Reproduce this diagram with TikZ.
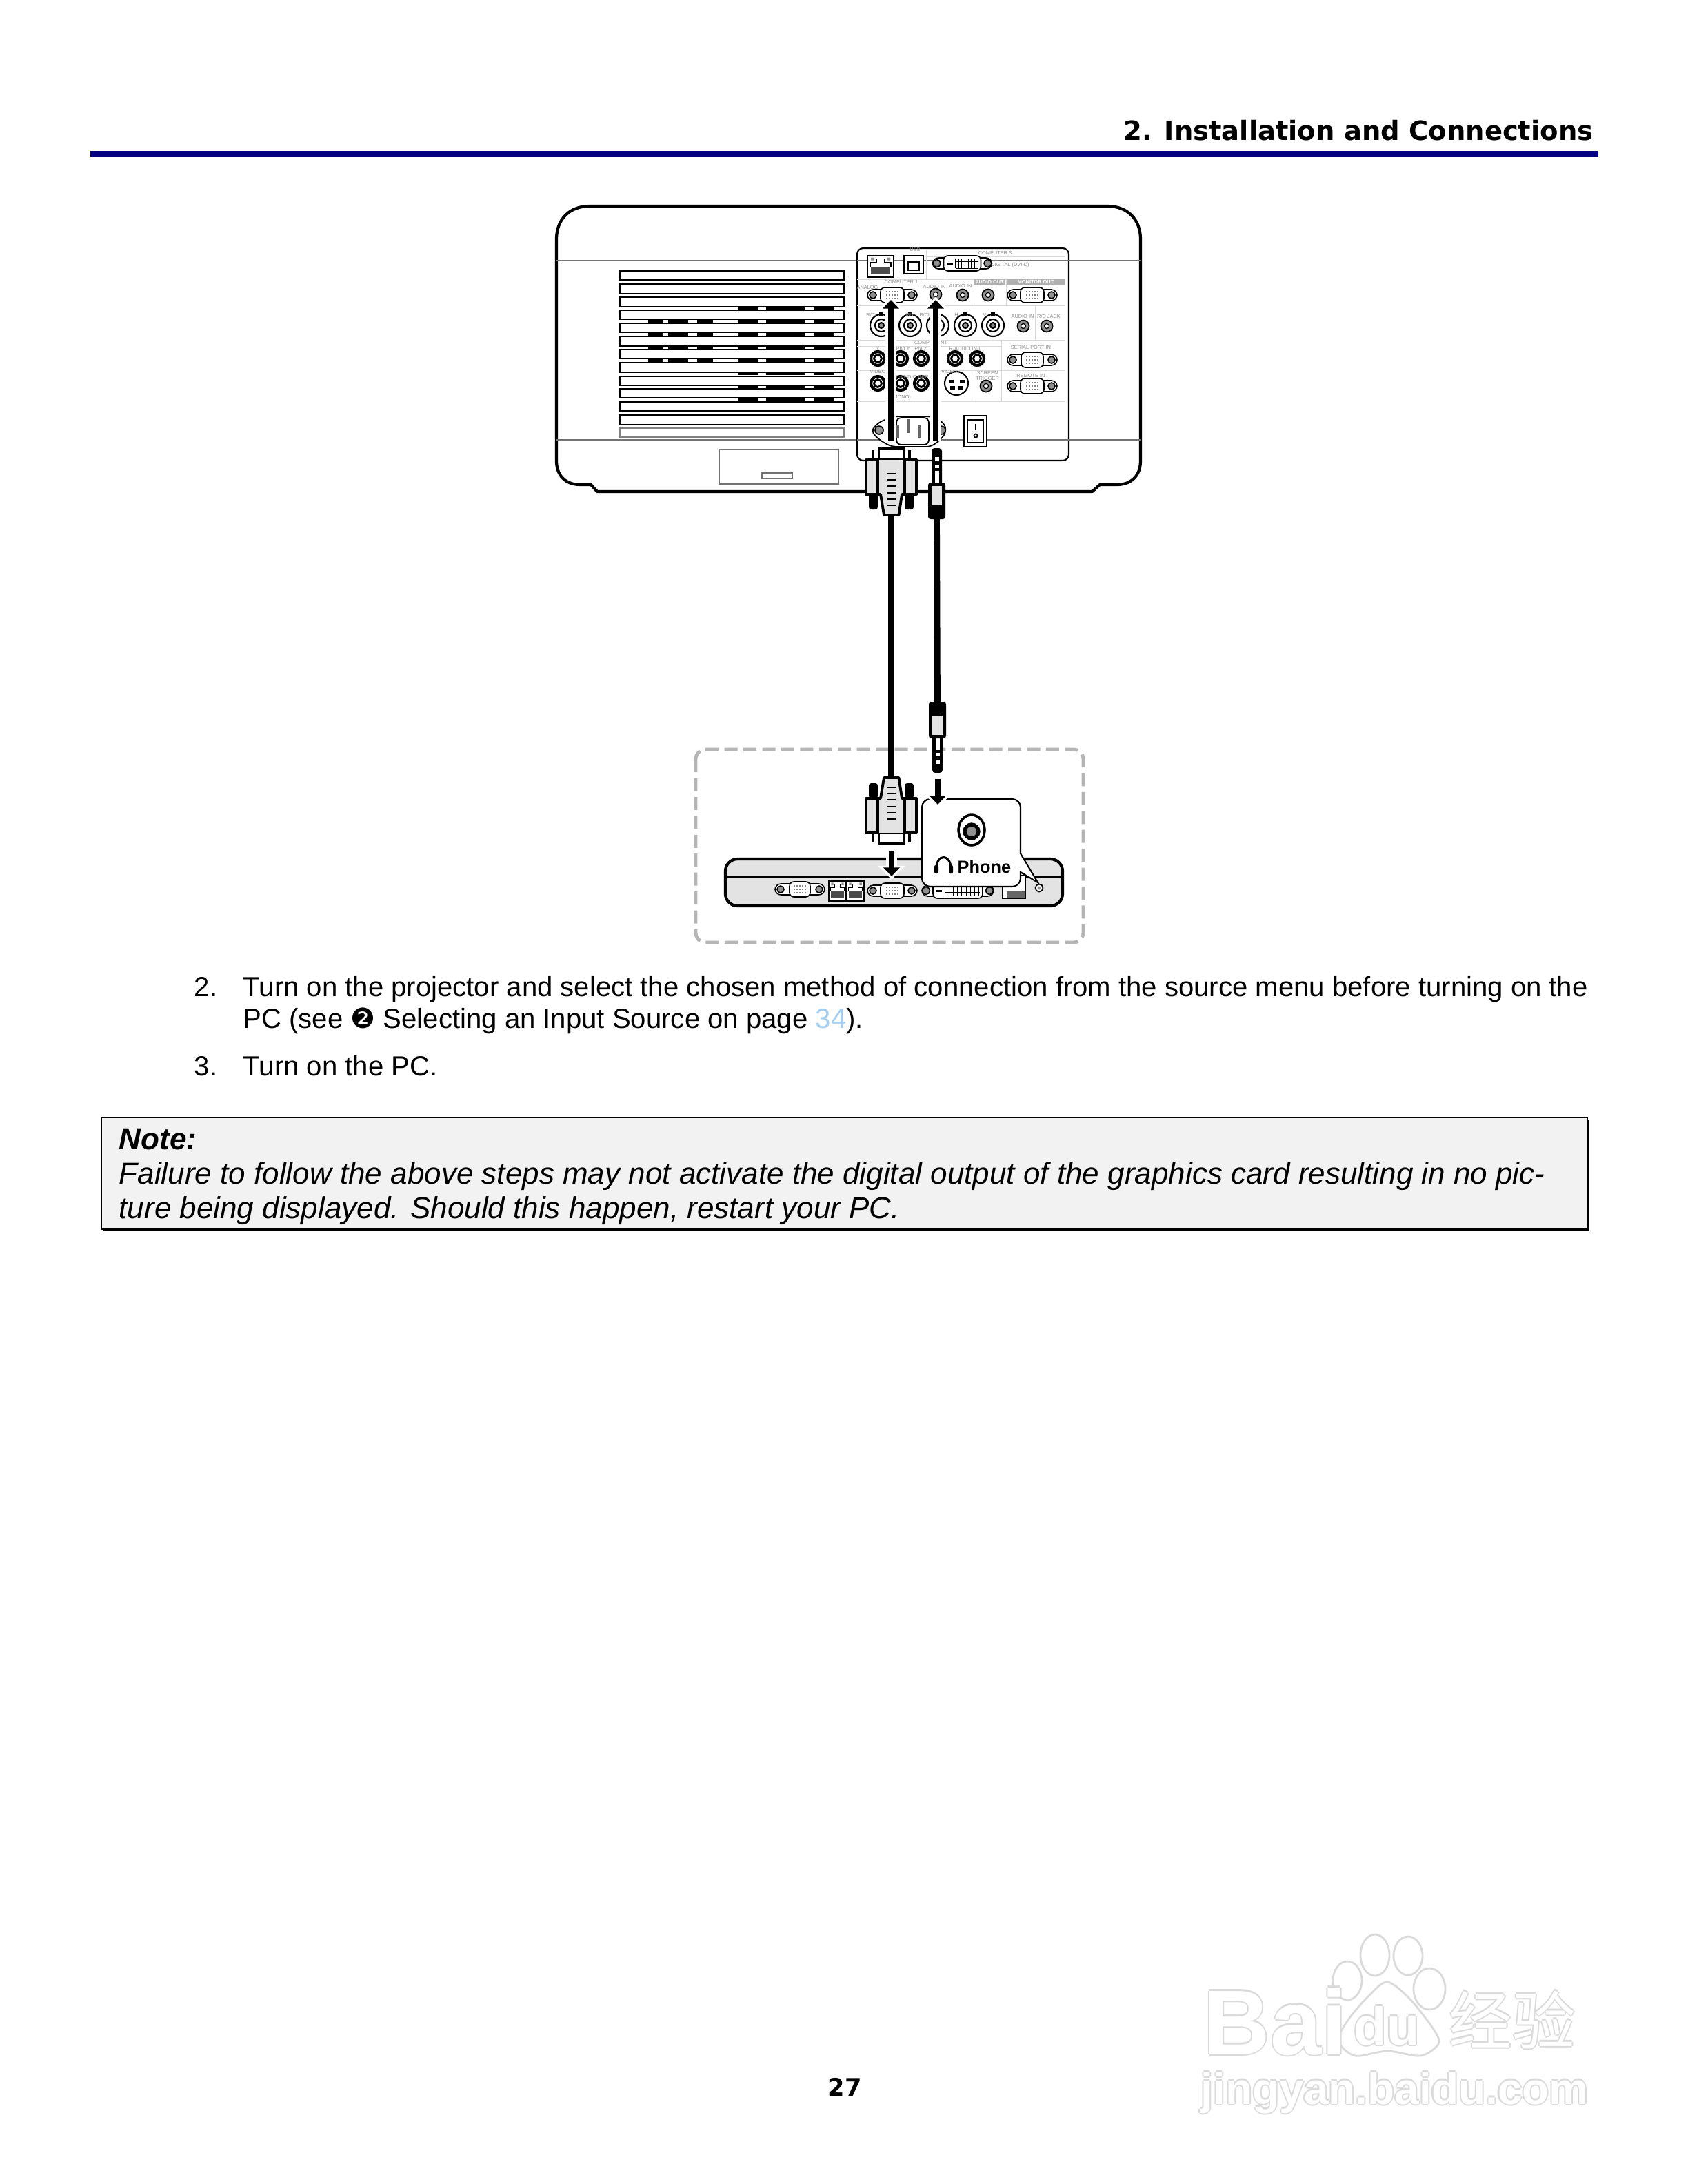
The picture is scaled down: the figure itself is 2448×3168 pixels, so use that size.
\documentclass[tikz,border=0pt]{standalone}
\usepackage{fontspec}
\usepackage{xcolor}
\usetikzlibrary{arrows.meta,calc}
\setmainfont{Liberation Sans}
\newfontfamily\headfont{DejaVu Sans}
\newfontfamily\cjkfont{Noto Sans CJK SC}
\definecolor{navy}{HTML}{000080}
\definecolor{soft}{HTML}{F2F2F2}
\definecolor{plugfill}{HTML}{E3E3E3}
\definecolor{dashgray}{HTML}{B5B5B5}
\definecolor{linkblue}{HTML}{A3CEF1}
\definecolor{labelgray}{HTML}{8F8F8F}
\definecolor{wmedge}{HTML}{DADADA}
% outlined letters of the watermark
\newcommand{\wmglyph}[1]{\leavevmode\rlap{\color{wmedge}\kern-.6pt #1}\rlap{\color{wmedge}\kern.6pt #1}\rlap{\color{wmedge}\raisebox{.6pt}{#1}}\rlap{\color{wmedge}\raisebox{-.6pt}{#1}}{\color{white}#1}}
\tikzset{
  pics/dsub/.style={code={
    \draw[portline,fill=white,rounded corners=2.4pt] (-36,-8) rectangle (36,8);
    \foreach \sx in {-28,28} \draw[portline,fill=labelgray] (\sx,0) circle (5);
    \draw[portline,fill=white,rounded corners=1.8pt] (-#1,-11) rectangle (#1,11);
    \foreach \sx in {-8,-4,0,4,8} \foreach \sy in {-5,0,5}
      \fill (\sx,\sy) circle (.8);
  }},
  pics/dsub/.default=17,
  pics/dviport/.style={code={
    \draw[portline,fill=white,rounded corners=2.4pt] (-#1-16,-8) rectangle (#1+16,8);
    \foreach \sx in {-1,1} \draw[portline,fill=labelgray] (\sx*#1+\sx*10,0) circle (5.5);
    \draw[portline,fill=white,rounded corners=1.8pt] (-#1,-11) rectangle (#1,11);
    \fill (-#1+5,-1.5) rectangle (-#1+13,1.5);
    \foreach \sx in {0,...,8} \draw[line width=.25pt] (-#1+17+\sx*.45*#1/2.6,-7) -- (-#1+17+\sx*.45*#1/2.6,7);
    \foreach \sy in {-7,-2.3,2.3,7} \draw[line width=.25pt] (-#1+17,\sy) -- (#1-4,\sy);
  }},
  pics/rjport/.style={code={
    \draw[line width=.7pt,fill=white] (-19,-15.5) rectangle (19,15.5);
    \draw[line width=.4pt] (-15,1) -- (-15,-6) -- (-6,-6) -- (-6,-11) -- (6,-11) -- (6,-6) -- (15,-6) -- (15,1);
    \fill[black!70] (-14,1) rectangle (14,11);
    \fill[labelgray] (-14,-13) rectangle (-9,-9) (9,-13) rectangle (14,-9);
  }},
  pics/vgaplug/.style={code={
    \draw[plugline,fill=white] (-18,-25) -- (-18,-41) -- (18,-41) -- (18,-25);
    \foreach \sx in {-26.5,26.5} \draw[line width=1pt] (\sx,-25) -- (\sx,-39);
    \foreach \sx in {-26,26} \fill[rounded corners=1pt] (\sx-6.5,25) rectangle (\sx+6.5,47);
    \draw[plugline,fill=plugfill,line join=round] (-36.5,-25) rectangle (36.5,25);
    \draw[plugline,fill=plugfill,line join=round] (-19.5,-25) -- (-19.5,25) -- (-15.5,25) -- (-10.5,55) -- (11,55) -- (15.5,25) -- (19.5,25) -- (19.5,-25);
    \foreach \dy in {-5,4,13,23,32,41} \fill (-6.5,\dy-1) rectangle (6.5,\dy+1);
  }},
  pics/jackplug/.style={code={
    \fill[rounded corners=1.2pt] (-7.5,-50) rectangle (7.5,5);
    \foreach \wa/\wb in {-37/-31,-25/-21,-17/1} \fill[white] (-3,\wa) rectangle (3,\wb);
    \fill[rounded corners=1pt] (-12.5,0) rectangle (12.5,53);
    \fill[plugfill] (-7.5,5) rectangle (7.5,33);
  }}
}
\begin{document}
\begin{tikzpicture}[x=0.01cm,y=-0.01cm,
    bodyline/.style={line width=1.2pt,line join=round},
    plugline/.style={line width=1.1pt},
    portline/.style={line width=.45pt},
    vent/.style={line width=.55pt,fill=white},
    grayline/.style={line width=.45pt,draw=black!55},
    faint/.style={line width=.25pt,draw=black!15},
    bnc/.style={line width=.6pt,fill=white},
    portlabel/.style={font=\fontsize{2.1}{2.5}\selectfont,text=labelgray,inner sep=0pt,align=center},
    whitelabel/.style={font=\bfseries\fontsize{2.1}{2.5}\selectfont,text=white,inner sep=0pt},
    bodytext/.style={font=\fontsize{11.41}{14}\selectfont,anchor=base west,inner sep=0pt},
    notetext/.style={font=\itshape\fontsize{12.52}{15}\selectfont,anchor=base west,inner sep=0pt},
    wmark/.style={inner sep=0pt},
    halo/.style={white,line width=4.6pt,shorten >=-1.3pt,-{Triangle[length=5.6pt,width=11pt]}},
    inarrow/.style={line width=2.4pt,-{Triangle[length=3.6pt,width=6.6pt]}},
    cable/.style={line width=2.5pt}]
  \useasboundingbox (0,0) rectangle (2448,3168);

  % page head
  \node[font=\headfont\bfseries\fontsize{10.95}{13}\selectfont,anchor=base east,inner sep=0pt] (header) at (2311,203) {2. Installation and Connections};
  \fill[navy] (131,219) rectangle (2318,228);

  % projector body
  \draw[bodyline,fill=white] (866,713) -- (857,703) -- (842,703) .. controls (820,703) and (807,690) .. (807,668) -- (807,347) .. controls (807,318) and (826,299) .. (855,299) -- (1606,299) .. controls (1635,299) and (1654,318) .. (1654,347) -- (1654,668) .. controls (1654,690) and (1641,703) .. (1619,703) -- (1595,703) -- (1584,713) -- cycle;
  \draw[grayline] (807,378) -- (1654,378) (807,638) -- (1654,638);
  \foreach \va/\vb in {393/406,412/426,431/445,450/463,469/482,488/502,507/520,526/540,546/559,564/577,583/596,602/616}
    \draw[vent] (899,\va) rectangle (1224,\vb);
  \draw[vent,draw=black!50,line width=.8pt] (899,621) rectangle (1224,634);
  \foreach \dy in {448,466,485,504,523,542,561,580}
    \foreach \da/\db in {1071/1100,1111/1167,1180/1209}
      \fill (\da,\dy-2) rectangle (\db,\dy+2);
  \foreach \dy in {466,485,504,523}
    \foreach \da/\db in {940/961,969/998,1011/1034}
      \fill (\da,\dy-2) rectangle (\db,\dy+2);
  \draw[grayline,line width=.6pt] (1043,652) rectangle (1216,702);
  \draw[grayline,line width=.6pt] (1105,686) rectangle (1149,694);

  % back panel
  \draw[line width=.6pt,fill=white,rounded corners=2.5pt] (1243,360) rectangle (1550,668);
  \draw[grayline] (1243,378) -- (1550,378) (1243,638) -- (1550,638);
  \foreach \xa/\ya/\xb/\yb in {1343/363/1343/405,1243/405/1544/405,1343/372/1544/372,1243/443/1544/443,1243/493/1544/493,1243/502/1452/502,1243/537/1544/537,1243/582/1544/582,1544/372/1544/582,1412/405/1412/443,1459/405/1459/443,1501/443/1501/493,1452/493/1452/582,1373/405/1373/443,1412/537/1412/582}
    \draw[faint] (\xa,\ya) -- (\xb,\yb);
  \fill[labelgray!70] (1412,405) rectangle (1458,413) (1460,405) rectangle (1544,413);

  \pic at (1277,386.5) {rjport};
  \draw[line width=.7pt,fill=white] (1311,371) rectangle (1339,397);
  \draw[line width=.4pt] (1317,380) rectangle (1333,392);
  \pic at (1395.5,382) {dviport=27};
  \pic at (1294,428) {dsub};
  \pic at (1497,428) {dsub};
  \pic at (1497,522) {dsub=16};
  \pic at (1497,560) {dsub};

  \foreach \jx/\jy in {1278/472,1320/472,1360/472,1400/472,1440/472} {
    \draw[bnc] (\jx,\jy) circle (16);
    \draw[bnc] (\jx,\jy) circle (9);
    \draw[bnc,fill=labelgray] (\jx,\jy) circle (4);
    \draw[line width=.3pt] (\jx-2,\jy-18) rectangle (\jx+2,\jy-14);
  }
  \foreach \jx/\jy in {1273/520,1306/520,1336/520,1385/520,1417/520,1273/556,1306/556,1336/556} {
    \draw[line width=1.2pt,fill=white] (\jx,\jy) circle (10);
    \draw[line width=.8pt,fill=white] (\jx,\jy) circle (5.5);
  }
  \foreach \jx/\jy in {1357/427,1396/428,1433/428,1484/473,1518/473,1430/560} {
    \draw[line width=.5pt,fill=labelgray] (\jx,\jy) circle (8.5);
    \draw[line width=.35pt,fill=white] (\jx,\jy) circle (3.5);
  }
  \draw[line width=.6pt,fill=white] (1387,556) circle (17);
  \foreach \sx/\sy in {-8/-3,8/-3,-6/6,6/6} \fill (1387+\sx-3.5,556+\sy-2.5) rectangle (1387+\sx+3.5,556+\sy+2.5);

  \foreach \lx/\ly/\ltxt [count=\ln] in {1327/362/USB,1443/367/COMPUTER 3,1465/385/DIGITAL (DVI-D),1307/409/COMPUTER 1,1258/417/ANALOG,1355/416/AUDIO IN,1393/415/AUDIO IN,1264/457/{R/Cr},1320/457/{G/Y},1342/457/{B/Cb},1387/457/H,1428/457/V,1483/459/AUDIO IN,1521/459/{R/C JACK},1350/497/COMPONENT,1273/506/Y,1310/506/{Pb/Cb},1335/506/{Pr/Cr},1400/506/R-AUDIO IN-L,1495/504/SERIAL PORT IN,1273/539/VIDEO,1323/547/L-AUDIO IN-R,1307/577/(MONO),1373/539/S-VIDEO,1432/545/{SCREEN\\TRIGGER},1495/545/REMOTE IN}
    \node[portlabel] (panellabel\ln) at (\lx,\ly) {\ltxt};
  \node[whitelabel] (audioout) at (1435,409) {AUDIO OUT};
  \node[whitelabel] (monitorout) at (1502,409) {MONITOR OUT};

  % power inlet and switch
  \draw[line width=.5pt,fill=white,rounded corners=2pt] (1263,625) -- (1275,612) -- (1297,604) -- (1350,604) -- (1368,612) -- (1373,625) -- (1365,637) -- (1350,648) -- (1293,648) -- (1275,638) -- cycle;
  \draw[line width=.5pt,fill=white,rounded corners=2pt] (1300,606) rectangle (1347,645);
  \foreach \sx in {1275,1365} \draw[portline,fill=labelgray] (\sx,624) circle (6);
  \foreach \px/\pa/\pb in {1302/617/635,1317/608/628,1333/617/635} \draw[line width=.9pt,black!60] (\px,\pa) -- (\px,\pb);
  \draw[line width=.7pt,fill=white] (1398,603) rectangle (1431,648);
  \draw[line width=.5pt] (1403,609) rectangle (1426,642);
  \draw[line width=.4pt] (1415,615) -- (1415,624);
  \draw[line width=.5pt] (1415,632) circle (2.6);

  % lower box with the notebook
  \draw[dashgray,line width=1.4pt,dash pattern=on 5.4pt off 2.4pt,rounded corners=4pt] (1009,1087) rectangle (1571,1367);
  \draw[line width=1.2pt,fill=plugfill,rounded corners=5pt] (1052,1246) rectangle (1541,1314);
  \draw[line width=.45pt] (1053,1272) -- (1540,1272);
  \pic at (1160,1290) {dsub=15};
  \pic[xscale=.66,yscale=.93] at (1214.5,1292.5) {rjport};
  \pic[xscale=.66,yscale=.93] at (1240.5,1292.5) {rjport};
  \pic at (1294,1292) {dsub};
  \pic at (1389,1292) {dviport=36};
  \draw[line width=.5pt,fill=white] (1454,1270) rectangle (1487,1303);
  \fill[black!60] (1460,1293) rectangle (1487,1303);
  \draw[line width=.5pt,fill=white] (1507,1288) circle (5.5);
  \fill[labelgray] (1507,1288) circle (2.4);

  % call-out of the phone jack
  \draw[line width=.6pt,fill=white] [rounded corners=3.4pt] (1337,1286) -- (1337,1159) -- (1480,1159) [sharp corners] -- (1480,1238) -- (1505,1280) -- (1480,1265) [rounded corners=3.4pt] -- (1480,1286) -- cycle;
  \draw[line width=1pt,fill=white] (1409,1204) ellipse [x radius=19,y radius=22];
  \draw[line width=1.5pt,fill=labelgray] (1409,1206) circle (10);
  \node[font=\bfseries\fontsize{7.2}{9}\selectfont,inner sep=0pt,anchor=base west] (phone) at (1388,1266) {Phone};
  \draw[line width=.9pt] (1358,1260) .. controls (1358,1238) and (1379,1238) .. (1379,1260);
  \fill[rounded corners=.6pt] (1355,1255) rectangle (1361,1267) (1376,1255) rectangle (1382,1267);

  % plugs and cables
  \coordinate (vgaplugA) at (1292.5,692);
  \coordinate (vgaplugB) at (1292.5,1183);
  \coordinate (jackplugA) at (1358.5,700);
  \coordinate (jackplugB) at (1359.5,1071);
  \draw[cable] ($(vgaplugA)+(0,50)$) -- ($(vgaplugB)-(0,50)$);
  \draw[cable] ($(jackplugA)+(0,50)$) -- ($(jackplugB)-(0,50)$);
  \draw[halo] (1292,640) -- (1292,435);
  \draw[inarrow] (1292,640) -- (1292,435);
  \draw[halo] (1357,640) -- (1357,435);
  \draw[inarrow] (1357,640) -- (1357,435);
  \pic at (vgaplugA) {vgaplug};
  \pic[yscale=-1] at (vgaplugB) {vgaplug};
  \pic at (jackplugA) {jackplug};
  \pic[yscale=-1] at (jackplugB) {jackplug};
  \draw[halo] (1293,1234) -- (1293,1271);
  \draw[inarrow] (1293,1234) -- (1293,1271);
  \draw[halo] (1360,1130) -- (1360,1167);
  \draw[inarrow] (1360,1130) -- (1360,1167);

  % list
  \node[bodytext] (num2) at (281,1445) {2.};
  \node[bodytext] (step2a) at (352,1445) {Turn on the projector and select the chosen method of connection from the source menu before turning on the};
  \node[bodytext] (step2b) at (352,1491) {PC (see {\headfont ❷} Selecting an Input Source on page \textcolor{linkblue}{34}).};
  \node[bodytext] (num3) at (281,1560) {3.};
  \node[bodytext] (step3) at (352,1560) {Turn on the PC.};

  % note
  \fill (150,1624) rectangle (2305,1786);
  \draw[line width=.6pt,fill=soft] (147,1621) rectangle (2302,1783);
  \node[notetext,font=\bfseries\itshape\fontsize{12.52}{15}\selectfont] (notehead) at (172,1667) {Note:};
  \node[notetext] (notea) at (172,1717) {Failure to follow the above steps may not activate the digital output of the graphics card resulting in no pic-};
  \node[notetext] (noteb) at (172,1767) {ture being displayed. Should this happen, restart your PC.};
  \node[font=\headfont\bfseries\fontsize{10}{12}\selectfont,inner sep=0pt,anchor=base] (pagenum) at (1225,3040) {27};

  % watermark
  \foreach \px/\py/\prx/\pry in {1954/2873/21/28,1994/2836/21/30,2042/2837/21/28,2073/2885/23/30}
    \draw[wmedge,line width=.8pt] (\px,\py) ellipse [x radius=\prx,y radius=\pry];
  \draw[wmedge,line width=.8pt,fill=white] plot[smooth cycle] coordinates {(2012,2875) (2045,2900) (2080,2945) (2086,2965) (2060,2982) (2012,2975) (1965,2982) (1941,2960) (1955,2930) (1985,2895)};
  \node[wmark,font=\bfseries\fontsize{38}{40}\selectfont,anchor=base west] (wmbai) at (1745,2980) {\wmglyph{Bai}};
  \node[wmark,font=\bfseries\fontsize{22}{24}\selectfont,anchor=base] (wmdu) at (2011,2966) {\wmglyph{du}};
  \node[wmark,font=\cjkfont\fontsize{26}{28}\selectfont,anchor=base west] (wmcjk) at (2101,2965) {\wmglyph{经验}};
  \node[wmark,font=\bfseries\fontsize{18.2}{22}\selectfont,anchor=base west] (wmurl) at (1741,3052) {\wmglyph{jingyan.baidu.com}};
\end{tikzpicture}
\end{document}
